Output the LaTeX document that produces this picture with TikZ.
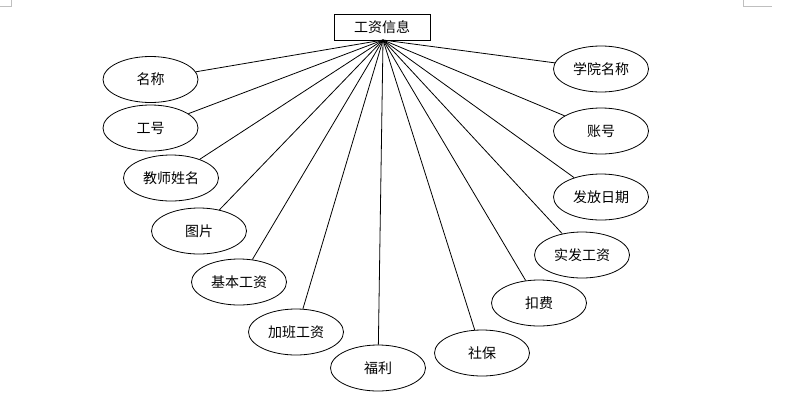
\documentclass[tikz,border=0pt]{standalone}
\usepackage{fontspec}
\usepackage{tikz}
\usetikzlibrary{shapes.geometric}
\newfontfamily\cjk{Noto Sans CJK SC}

\begin{document}
\begin{tikzpicture}[
  x=0.75pt,y=-0.75pt,
  font=\cjk\fontsize{10.5}{12}\selectfont,
  attr/.style={draw,ellipse,minimum width=71.25pt,minimum height=34.5pt,inner sep=0pt,line width=0.6pt},
  entity/.style={draw,rectangle,minimum width=72pt,minimum height=19.5pt,inner sep=0pt,line width=0.7pt},
  link/.style={line width=0.6pt},
  cornermark/.style={gray!50,line width=0.6pt},
]
\useasboundingbox (0,0) rectangle (805,400);
% ----- page corner marks
\coordinate (tl1) at (11,0);
\coordinate (tl2) at (11,6);
\coordinate (tl3) at (0,6);
\coordinate (tr1) at (743,0);
\coordinate (tr2) at (743,6);
\coordinate (tr3) at (772,6);
\draw[cornermark] (tl1) -- (tl2) -- (tl3);
\draw[cornermark] (tr1) -- (tr2) -- (tr3);
% ----- entity
\node[entity] (salary) at (382,27) {工资信息};
\coordinate (hub) at (383,40);
% ----- left attributes
\node[attr] (name)    at (150.5,79.5) {名称};
\node[attr] (jobno)   at (150.5,128) {工号};
\node[attr] (teacher) at (171,178) {教师姓名};
\node[attr] (photo)   at (199,231) {图片};
\node[attr] (base)    at (239,282) {基本工资};
\node[attr] (extra)   at (296,332) {加班工资};
\node[attr] (welfare) at (378,368) {福利};
% ----- right attributes
\node[attr] (social)  at (482,353) {社保};
\node[attr] (deduct)  at (539,303) {扣费};
\node[attr] (netpay)  at (582,255) {实发工资};
\node[attr] (paydate) at (601,197) {发放日期};
\node[attr] (account) at (601,131) {账号};
\node[attr] (college) at (601,69) {学院名称};
% ----- links
\foreach \a in {name,jobno,teacher,photo,base,extra,welfare,social,deduct,netpay,paydate,account,college}
  \draw[link] (hub) -- (\a);
\end{tikzpicture}
\end{document}
